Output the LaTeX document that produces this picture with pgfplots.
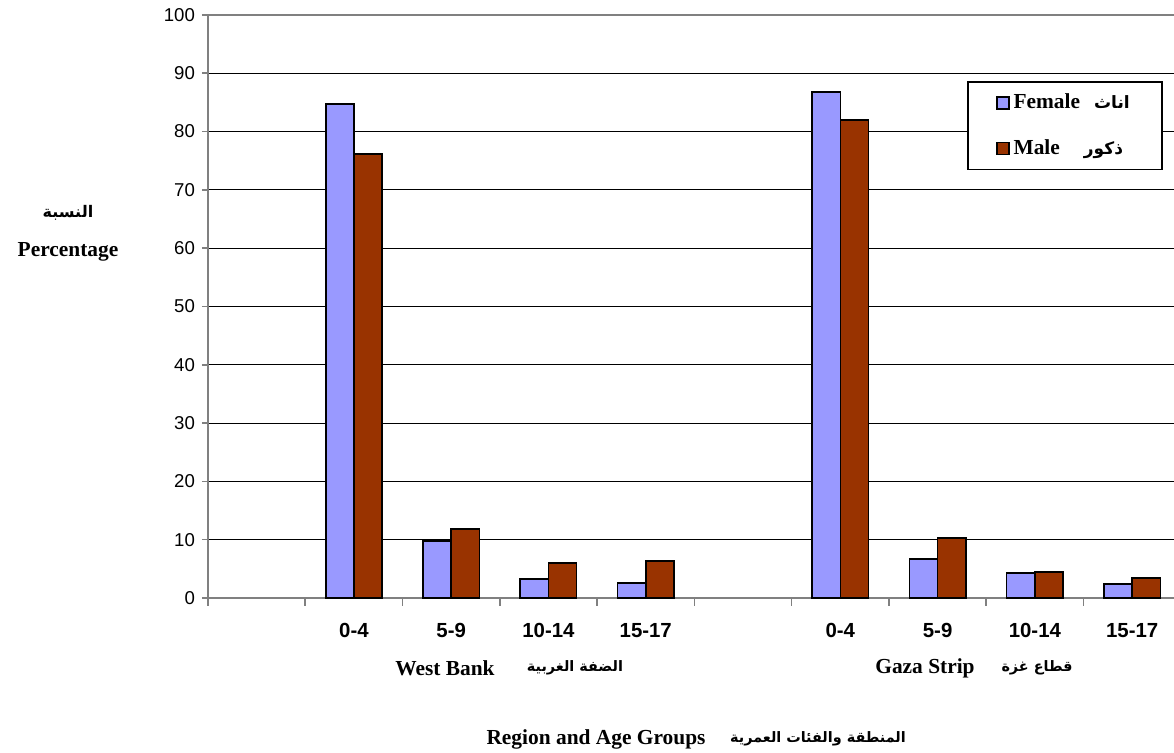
\documentclass[border=0pt]{standalone}
\usepackage{fontspec}
\usepackage{pgfplots}
\pgfplotsset{compat=1.18}
\setmainfont{Liberation Serif}
\newfontfamily\arial{Liberation Sans}
\newfontfamily\arabicfont[Script=Arabic]{DejaVu Sans}
\TeXXeTstate=1
\definecolor{femalec}{HTML}{9999FF}
\definecolor{malec}{HTML}{993300}
\definecolor{axgray}{HTML}{808080}

\begin{document}
\begin{tikzpicture}
\useasboundingbox (-104pt,-77.5pt) rectangle (483pt,299pt);
\begin{axis}[
    scale only axis,
    width=483pt, height=291.5pt,
    xmin=-0.5, xmax=9.43,
    ymin=0, ymax=100,
    ybar=0pt,
    bar width=0.29,
    axis x line*=bottom,
    axis y line*=left,
    axis line style={axgray, line width=1pt, -},
    ytick={0,10,...,100},
    ymajorgrids,
    major grid style={black, line width=0.4pt},
    xtick={1,2,3,4,6,7,8,9},
    xticklabels={0-4,5-9,10-14,15-17,0-4,5-9,10-14,15-17},
    minor xtick={-0.5,0.5,...,9.5},
    tick align=outside,
    major tick length=3pt,
    minor tick length=4pt,
    ytick style={axgray, line width=0.8pt},
    major x tick style={draw=none},
    minor x tick style={draw=axgray, line width=0.8pt},
    /pgf/number format/assume math mode=true,
    yticklabel style={font=\arial\fontsize{9.3}{10}\selectfont},
    xticklabel style={font=\arial\bfseries\fontsize{10.2}{11}\selectfont, yshift=-6pt},
    legend style={at={(0.7857,0.8868)}, anchor=north west,
        draw=black, line width=0.8pt,
        inner xsep=14pt, inner ysep=4pt, row sep=10pt,
        font=\bfseries\fontsize{10.7}{12}\selectfont,
        /tikz/every even column/.append style={column sep=1pt}},
    legend cell align=left,
    legend image code/.code={\draw[#1, line width=0.9pt] (0pt,-3pt) rectangle (6pt,3pt);},
    clip=false,
]
\addplot[draw=black, line width=0.8pt, fill=femalec]
    coordinates {(1,84.7) (2,9.8) (3,3.3) (4,2.6) (6,86.8) (7,6.7) (8,4.3) (9,2.4)};
\addlegendentry{Female\hspace{7pt}{\arabicfont\bfseries\fontsize{8.5}{10}\selectfont\beginR اناث\endR}}
\addplot[draw=black, line width=0.8pt, fill=malec]
    coordinates {(1,76.2) (2,11.8) (3,6.0) (4,6.3) (6,82.0) (7,10.3) (8,4.5) (9,3.4)};
\addlegendentry{Male\hspace{12pt}{\arabicfont\bfseries\fontsize{8.5}{10}\selectfont\beginR ذكور\endR}}
\draw[axgray, line width=1.2pt] (axis cs:-0.5,100) -- (axis cs:9.43,100);
\end{axis}
\node[font=\arabicfont\bfseries\fontsize{8}{10}\selectfont] at (-70pt,192.5pt) {\beginR النسبة\endR};
\node[font=\bfseries\fontsize{10.7}{12}\selectfont] at (-70pt,173pt) {Percentage};
\node[font=\bfseries\fontsize{10.7}{12}\selectfont] at (118.5pt,-35pt) {West Bank};
\node[font=\arabicfont\bfseries\fontsize{7.2}{9}\selectfont] at (183.5pt,-35pt) {\beginR الضفة الغربية\endR};
\node[font=\bfseries\fontsize{10.7}{12}\selectfont] at (358.5pt,-35pt) {Gaza Strip};
\node[font=\arabicfont\bfseries\fontsize{7.2}{9}\selectfont] at (414.5pt,-35pt) {\beginR قطاع غزة\endR};
\node[font=\bfseries\fontsize{10.7}{12}\selectfont] at (194pt,-70.5pt) {Region and Age Groups};
\node[font=\arabicfont\bfseries\fontsize{7.2}{9}\selectfont] at (305pt,-70.5pt) {\beginR المنطقة والفئات العمرية\endR};
\end{tikzpicture}
\end{document}
